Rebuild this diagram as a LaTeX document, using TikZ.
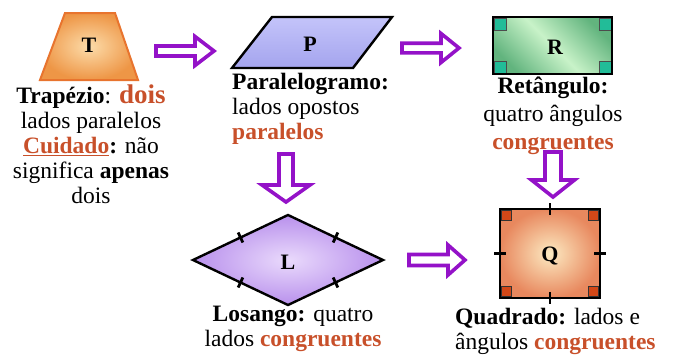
\documentclass[tikz,border=0pt]{standalone}
\usepackage{fontspec}
\setmainfont{Liberation Serif}
\usetikzlibrary{calc}

\definecolor{arrowpurple}{HTML}{9412C8}
\definecolor{accent}{HTML}{C8502A}
\definecolor{trapedge}{HTML}{E8742E}
\definecolor{trapin}{HTML}{FCDCAA}
\definecolor{trapout}{HTML}{EE9646}
\definecolor{paratop}{HTML}{C4C4FA}
\definecolor{parabot}{HTML}{A4A4EE}
\definecolor{rectdark}{HTML}{62B47E}
\definecolor{rectlight}{HTML}{C8F2C8}
\definecolor{rectmark}{HTML}{22BC98}
\definecolor{rhombin}{HTML}{EADAFC}
\definecolor{rhombout}{HTML}{B890EC}
\definecolor{sqin}{HTML}{FCEAC2}
\definecolor{sqout}{HTML}{E8885E}
\definecolor{sqmark}{HTML}{D24818}

% right-pointing block arrow: tail x, tip x, centre y, shaft half, head half, head length
\newcommand\BlkArrowR[6]{%
  \draw[blockarrow] (#1,#3-#4) -- (#2-#6,#3-#4) -- (#2-#6,#3-#5) -- (#2,#3)
    -- (#2-#6,#3+#5) -- (#2-#6,#3+#4) -- (#1,#3+#4) -- cycle;}
% downward block arrow: centre x, tail y, tip y, shaft half, head half, head length
\newcommand\BlkArrowD[6]{%
  \draw[blockarrow] (#1-#4,#2) -- (#1-#4,#3-#6) -- (#1-#5,#3-#6) -- (#1,#3)
    -- (#1+#5,#3-#6) -- (#1+#4,#3-#6) -- (#1+#4,#2) -- cycle;}

\begin{document}
\begin{tikzpicture}[x=1pt,y=-1pt,
  txt/.style={inner sep=0pt, font=\fontsize{23.5}{25}\selectfont},
  letter/.style={inner sep=0pt, font=\fontsize{22}{22}\selectfont\bfseries},
  outline/.style={draw=black, line width=2.4pt, line join=miter},
  blockarrow/.style={draw=arrowpurple, fill=white, line width=3.6pt, line join=miter},
  tick/.style={draw=black, line width=2.8pt},
  rectcorner/.style={fill=rectmark, draw=black!70, line width=0.6pt},
  sqcorner/.style={fill=sqmark, draw=black!80, line width=0.8pt}]
\useasboundingbox (0,0) rectangle (673,354);

% trapezoid
\draw[draw=trapedge, line width=2pt, inner color=trapin, outer color=trapout]
  (65,13) -- (115,13) -- (138,80) -- (40,80) -- cycle;
\node[letter] (T) at (89,45) {T};

% parallelogram
\draw[outline, top color=paratop, bottom color=parabot]
  (272,17) -- (392,17) -- (353,68) -- (232,68) -- cycle;
\node[letter] (P) at (310,44) {P};

% rectangle with right-angle marks
\draw[outline, left color=rectdark, right color=rectdark,
      middle color=rectlight, shading angle=135]
  (493,17) rectangle (612,74);
\foreach \cx/\cy/\dx/\dy in {493/17/1/1, 612/17/-1/1, 493/74/1/-1, 612/74/-1/-1}
  \draw[rectcorner] (\cx+1.2*\dx,\cy+1.2*\dy) rectangle ++(12*\dx,12*\dy);
\draw[outline] (493,17) rectangle (612,74);
\node[letter] (R) at (555,47) {R};

% rhombus with equal-side ticks
\coordinate (Ltop) at (288,215);
\coordinate (Lright) at (383,260);
\coordinate (Lbottom) at (288,305);
\coordinate (Lleft) at (193,260);
\draw[outline, inner color=rhombin, outer color=rhombout]
  (Ltop) -- (Lright) -- (Lbottom) -- (Lleft) -- cycle;
\foreach \a/\b in {Ltop/Lright, Lright/Lbottom, Lbottom/Lleft, Lleft/Ltop}
  \draw[tick] ($($(\a)!0.5!(\b)$)!5.5pt!90:(\b)$) -- ($($(\a)!0.5!(\b)$)!5.5pt!-90:(\b)$);
\node[letter] (L) at (288,262) {L};

% square with right-angle marks and equal-side ticks
\draw[outline, inner color=sqin, outer color=sqout]
  (500,209) rectangle (600,298);
\foreach \cx/\cy/\dx/\dy in {500/209/1/1, 600/209/-1/1, 500/298/1/-1, 600/298/-1/-1}
  \draw[sqcorner] (\cx+1.2*\dx,\cy+1.2*\dy) rectangle ++(10.5*\dx,10.5*\dy);
\draw[outline] (500,209) rectangle (600,298);
\draw[tick] (550,203) -- (550,215);
\draw[tick] (550,292) -- (550,304);
\draw[tick] (494,253.5) -- (506,253.5);
\draw[tick] (594,253.5) -- (606,253.5);
\node[letter] (Q) at (550,256) {Q};

% block arrows
\BlkArrowR{156}{214}{51}{5}{14.5}{19}
\BlkArrowR{402}{459}{48}{4.8}{14.5}{18}
\BlkArrowR{409}{465}{260}{5.5}{15}{17}
\BlkArrowD{286}{154}{202}{7}{24}{17}
\BlkArrowD{553}{152}{197}{8}{21.5}{17}

% captions
\node[txt, align=center, anchor=north] (ttext) at (91,85)
  {\textbf{Trapézio}: {\fontsize{27}{25}\selectfont\bfseries\color{accent}dois}\\
   lados paralelos\\
   \textcolor{accent}{\underline{\textbf{Cuidado}}}\textbf{:} não\\
   significa \textbf{apenas}\\
   dois};
\node[txt, align=left, anchor=north west] (ptext) at (232,73)
  {\textbf{Paralelogramo:}\\
   lados opostos\\
   \textbf{\color{accent}paralelos}};
\node[txt, align=center, anchor=north, font=\fontsize{23.5}{28}\selectfont] (rtext) at (553,77)
  {\textbf{Retângulo:}\\
   quatro ângulos\\
   \textbf{\color{accent}congruentes}};
\node[txt, align=center, anchor=north] (ltext) at (293,306)
  {\textbf{Losango:} quatro\\
   lados \textbf{\color{accent}congruentes}};
\node[txt, align=left, anchor=north west] (qtext) at (455,308)
  {\textbf{Quadrado:} lados e\\
   ângulos \textbf{\color{accent}congruentes}};
\end{tikzpicture}
\end{document}
